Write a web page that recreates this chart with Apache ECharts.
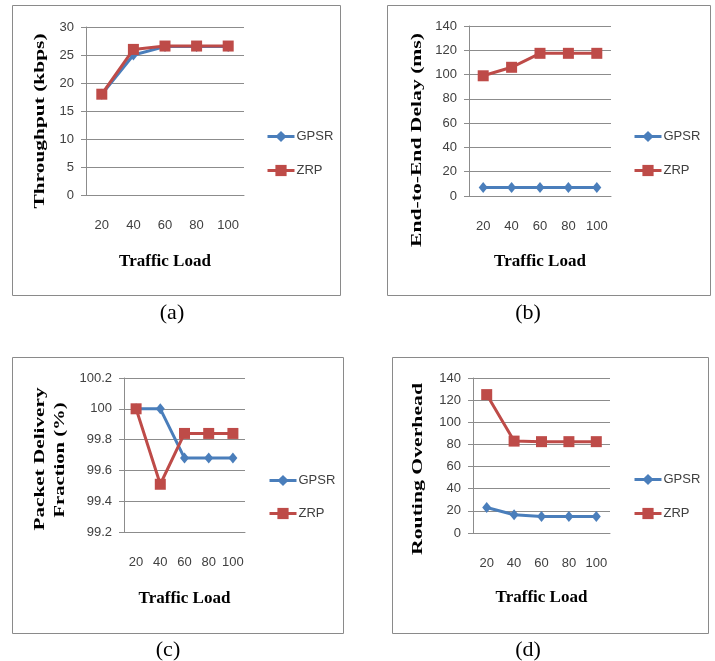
<!DOCTYPE html>
<html>
<head>
<meta charset="utf-8">
<script src="https://cdn.jsdelivr.net/npm/echarts@6/dist/echarts.min.js"></script>
<style>
html,body{margin:0;padding:0;background:#fff;}
#chart{width:715px;height:661px;}
</style>
</head>
<body>
<div id="chart"></div>
<script>
// ---- data ----
const categories = ['20', '40', '60', '80', '100'];
const seriesNames = ['GPSR', 'ZRP'];

const throughputGPSR = [18, 25, 26.5, 26.5, 26.5];
const throughputZRP  = [18, 26, 26.6, 26.6, 26.6];

const delayGPSR = [7, 7, 7, 7, 7];
const delayZRP  = [99, 106, 117.5, 117.5, 117.5];

const pdfGPSR = [100, 100, 99.68, 99.68, 99.68];
const pdfZRP  = [100, 99.51, 99.84, 99.84, 99.84];

const overheadGPSR = [23, 16.5, 15, 15, 15];
const overheadZRP  = [125, 83, 82.5, 82.5, 82.5];

const yTitles = ['Throughput (kbps)', 'End-to-End Delay (ms)', 'Packet Delivery\nFraction (%)', 'Routing Overhead'];
const xTitle = 'Traffic Load';
const captions = ['(a)', '(b)', '(c)', '(d)'];
const yRanges = [[0, 30, 5], [0, 140, 20], [99.2, 100.2, 0.2], [0, 140, 20]];

// ---- styling / layout ----
const BLUE = '#4a7ebb', RED = '#be4b48', GRID = '#8c8c8c', LABEL = '#404040';
const tickFont = '"Liberation Sans", Arial, sans-serif';
const serif = '"Liberation Serif", "Times New Roman", serif';

const grids = [
  {left: 86, top: 27, width: 158, height: 168},
  {left: 469, top: 26, width: 142, height: 170},
  {left: 124, top: 378, width: 121, height: 154},
  {left: 473, top: 378, width: 137, height: 155}
];
const boxes = [
  {x: 12, y: 5, w: 328, h: 290},
  {x: 387, y: 5, w: 323, h: 290},
  {x: 12, y: 357, w: 331, h: 276},
  {x: 392, y: 357, w: 316, h: 276}
];
const captionPos = [[172, 313], [528, 313], [168, 650], [528, 650]];
const yTitlePos = [
  [{x: 40, y: 121, len: 175}],
  [{x: 417, y: 140, len: 214}],
  [{x: 40, y: 129 + 330, len: 143, line: 0}, {x: 60, y: 130 + 330, len: 115, line: 1}],
  [{x: 418, y: 469, len: 172}]
];
const legendPos = [{left: 266, top: 130}, {left: 633, top: 130}, {left: 268, top: 474}, {left: 633, top: 473}];
const legendGaps = [21, 21, 20, 21];
const nameGaps = [58, 57, 58, 56];

const allData = [
  [throughputGPSR, throughputZRP],
  [delayGPSR, delayZRP],
  [pdfGPSR, pdfZRP],
  [overheadGPSR, overheadZRP]
];

const measureCtx = document.createElement('canvas').getContext('2d');
const titleFontSize = 15;
measureCtx.font = 'bold ' + titleFontSize + 'px "Liberation Serif"';

const graphics = [];
boxes.forEach(b => graphics.push({
  type: 'rect', shape: {x: b.x + 0.5, y: b.y + 0.5, width: b.w, height: b.h},
  style: {fill: 'none', stroke: '#8a8a8a', lineWidth: 1}, silent: true
}));
captions.forEach((c, i) => graphics.push({
  type: 'text', x: captionPos[i][0], y: captionPos[i][1],
  style: {text: c, font: '22px ' + serif, fill: '#000', align: 'center', verticalAlign: 'middle'}
}));
yTitlePos.forEach((arr, i) => {
  const lines = yTitles[i].split('\n');
  arr.forEach((p, k) => {
    const txt = lines[p.line || 0];
    const w = measureCtx.measureText(txt).width || 1;
    graphics.push({
      type: 'text', x: p.x, y: p.y, rotation: Math.PI / 2, scaleX: p.len / w,
      style: {text: txt, font: 'bold ' + titleFontSize + 'px ' + serif, fill: '#000', align: 'center', verticalAlign: 'middle'}
    });
  });
});

const option = {
  animation: false,
  backgroundColor: '#fff',
  grid: grids.map(g => Object.assign({containLabel: false}, g)),
  xAxis: grids.map((g, i) => ({
    type: 'category', gridIndex: i, data: categories, boundaryGap: true,
    name: xTitle, nameLocation: 'middle', nameGap: nameGaps[i],
    nameTextStyle: {fontFamily: serif, fontWeight: 'bold', fontSize: 17, color: '#000'},
    axisLine: {onZero: false, lineStyle: {color: GRID, width: 1}},
    axisTick: {show: false},
    axisLabel: {interval: 0, hideOverlap: false, margin: 24, fontFamily: tickFont, fontSize: 13, color: LABEL}
  })),
  yAxis: grids.map((g, i) => ({
    type: 'value', gridIndex: i, min: yRanges[i][0], max: yRanges[i][1], interval: yRanges[i][2],
    axisLine: {show: true, lineStyle: {color: GRID, width: 1}},
    axisTick: {show: true, length: 5, lineStyle: {color: GRID}},
    splitLine: {show: true, lineStyle: {color: GRID, width: 1}},
    axisLabel: {margin: 12, fontFamily: tickFont, fontSize: 13, color: LABEL,
      formatter: v => String(Number(v.toFixed(1)))}
  })),
  legend: legendPos.map((p, i) => ({
    data: seriesNames, orient: 'vertical', left: p.left, top: p.top, padding: 0,
    itemWidth: 27, itemHeight: 14, itemGap: legendGaps[i],
    lineStyle: {width: 3},
    textStyle: {fontFamily: tickFont, fontSize: 13, color: LABEL, padding: [0, 0, 0, -3]}
  })),
  series: [],
  graphic: graphics
};

allData.forEach((pair, i) => {
  option.series.push({
    name: 'GPSR', type: 'line', xAxisIndex: i, yAxisIndex: i, data: pair[0],
    symbol: 'diamond', symbolSize: [9, 11], lineStyle: {color: BLUE, width: 3},
    itemStyle: {color: BLUE}, z: 2
  });
  option.series.push({
    name: 'ZRP', type: 'line', xAxisIndex: i, yAxisIndex: i, data: pair[1],
    symbol: 'rect', symbolSize: 11, lineStyle: {color: RED, width: 3},
    itemStyle: {color: RED}, z: 3
  });
});

const chart = echarts.init(document.getElementById('chart'), null, {renderer: 'canvas'});
chart.setOption(option);
</script>
</body>
</html>
